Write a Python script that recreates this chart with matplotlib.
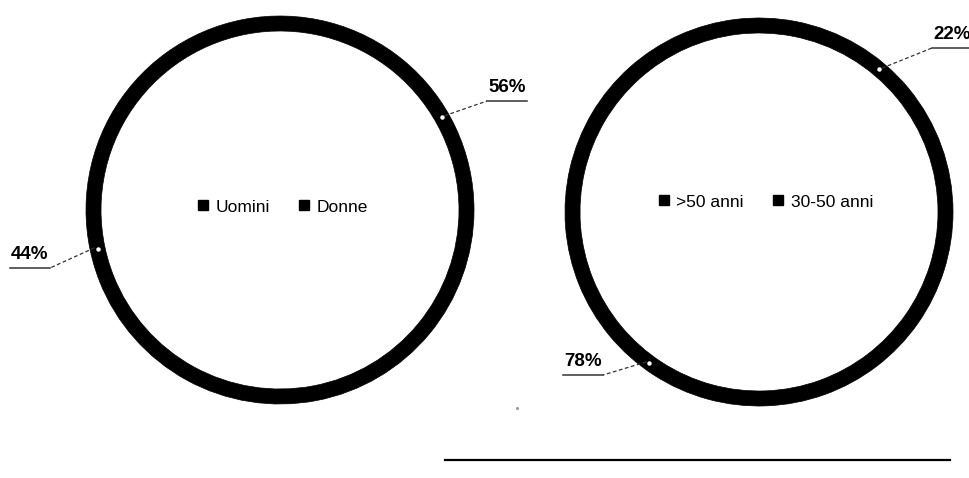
import numpy as np
import matplotlib
matplotlib.use("Agg")
from matplotlib import pyplot as plt
from matplotlib.lines import Line2D

plt.rcParams['font.family'] = ['Liberation Sans', 'DejaVu Sans']

# data
sex_labels = ["Uomini", "Donne"]
sex_values = [44, 56]
age_labels = [">50 anni", "30-50 anni"]
age_values = [78, 22]

# layout (pixel space of the picture)
W, H = 970, 478
R_OUT, RING = 194, 15
centers = [(280, 210), (759, 212)]
legend_pos = [(282, 207), (765, 202)]
# per label: angle of the dot on the ring, underline x0, x1, y
label_layout = [
    [(192, 10, 50, 268), (30, 487, 527, 101)],
    [(234, 563, 603, 375), (50, 932, 970, 48)],
]

fig = plt.figure(figsize=(W / 100, H / 100), dpi=100)
ax = fig.add_axes([0, 0, 1, 1])

groups = [(sex_labels, sex_values), (age_labels, age_values)]
legends = []
for (labels, vals), (cx, cy), lpos, lays in zip(groups, centers, legend_pos, label_layout):
    ax.pie(vals, center=(cx, cy), radius=R_OUT, colors=['black', 'black'],
           wedgeprops=dict(width=RING, edgecolor='black', linewidth=0.5))
    r_mid = R_OUT - RING / 2
    for v, (ang, x0, x1, y) in zip(vals, lays):
        a = np.radians(ang)
        dx, dy = cx + r_mid * np.cos(a), cy - r_mid * np.sin(a)
        ax.plot([dx], [dy], 'o', color='white', ms=2.2, zorder=5)
        # dashed leader from ring to underline
        sx = x0 if x0 > dx else x1
        ax.plot([dx + (3 if sx > dx else -3), sx], [dy - 1, y], color='#333333',
                lw=0.9, ls=(0, (3, 2)), zorder=4)
        ax.plot([x0, x1], [y, y], color='#333333', lw=1.1, zorder=4)
        ax.text(x0 + 1, y - 9, "%d%%" % v, fontsize=13.5, fontweight='bold',
                ha='left', va='baseline', color='black')
    handles = [Line2D([], [], marker='s', ls='', color='black', ms=6.5) for _ in labels]
    leg = ax.legend(handles, labels, loc='center', bbox_to_anchor=lpos,
                    bbox_transform=ax.transData, ncol=2, frameon=False,
                    fontsize=12.5, handletextpad=0.3, columnspacing=1.6,
                    handlelength=0.8)
    legends.append(leg)
for leg in legends[:-1]:
    ax.add_artist(leg)

# scan leftovers at the bottom
ax.plot([445, 950], [460, 460], color='black', lw=1.6)
ax.plot([517], [408], 'o', color='#999999', ms=1.2)

ax.set_xlim(0, W)
ax.set_ylim(H, 0)
ax.set_aspect('equal')
ax.axis('off')

fig.savefig("out.png", dpi=100, facecolor='white')
